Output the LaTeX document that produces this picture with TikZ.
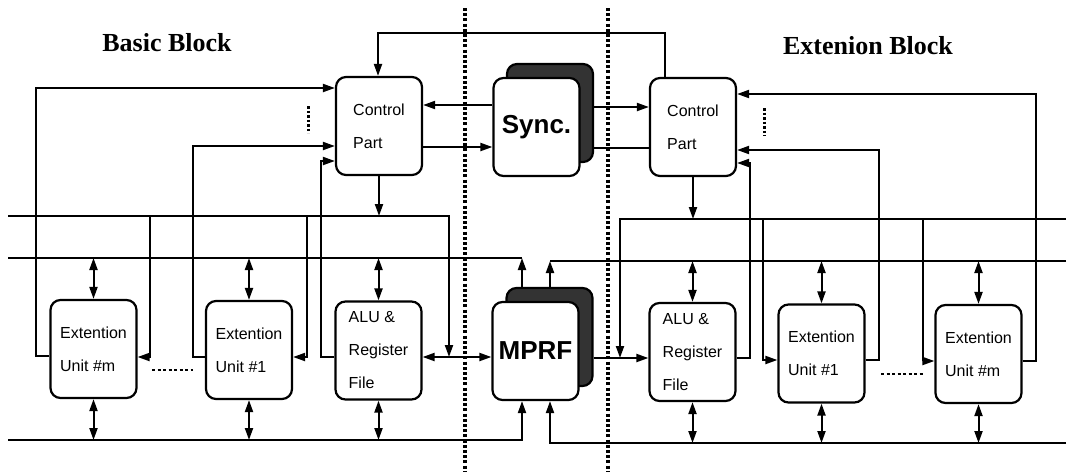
\documentclass[tikz,border=0pt]{standalone}
\usepackage{fontspec}
\setmainfont{Liberation Serif}
\setsansfont{Liberation Sans}
\usetikzlibrary{arrows.meta}
\begin{document}
\begin{tikzpicture}[x=1pt,y=-1pt,
  line width=2pt,
  >={Triangle[length=12pt,width=8pt]},
  blk/.style={draw, line width=2.2pt, rounded corners=10pt, minimum width=86pt, minimum height=98pt, inner sep=0pt, fill=white, align=left, font=\sffamily\fontsize{16}{33}\selectfont},
  big/.style={blk, font=\sffamily\bfseries\fontsize{26}{30}\selectfont},
  shadowbox/.style={draw, line width=2.2pt, fill=black!80, rounded corners=10pt, minimum width=86pt, minimum height=98pt, inner sep=0pt},
  title/.style={font=\rmfamily\bfseries\fontsize{26}{30}\selectfont},
  sep/.style={line width=3.5pt, dash pattern=on 3pt off 2.2pt},
  vdots/.style={line width=3pt, dash pattern=on 2.5pt off 2pt},
  hdash/.style={line width=1.8pt, dash pattern=on 3pt off 2.5pt}
]
\useasboundingbox (0,0) rectangle (1068,472);

% titles
\node[title] (tb) at (167,43) {Basic Block};
\node[title] (te) at (868,46) {Extenion Block};

% top row
\node[blk] (cpl) at (379,126) {Control\\Part};
\node[shadowbox] (syncsh) at (550,113) {};
\node[big] (sync) at (536.5,127) {Sync.};
\node[blk] (cpr) at (693,127) {Control\\Part};

% bottom row
\node[blk] (eum_l) at (93.5,349) {Extention\\Unit \#m};
\node[blk] (eu1_l) at (249,350) {Extention\\Unit \#1};
\node[blk] (alu_l) at (378.5,350.5) {ALU \&\\Register\\File};
\node[shadowbox] (mprfsh) at (549.5,337) {};
\node[big] (mprf) at (535.5,351) {MPRF};
\node[blk] (alu_r) at (692.5,352) {ALU \&\\Register\\File};
\node[blk] (eu1_r) at (821.5,353.5) {Extention\\Unit \#1};
\node[blk] (eum_r) at (978.5,354) {Extention\\Unit \#m};

% bus coordinates
\coordinate (L1) at (8,216);
\coordinate (L2) at (8,258);
\coordinate (L3) at (8,440);
\coordinate (R1) at (1066,219);
\coordinate (R2) at (1066,261);
\coordinate (R3) at (1066,443);
\coordinate (j1) at (449,357);
\coordinate (j2) at (620,358);
\coordinate (m1) at (522,258);
\coordinate (m2) at (550,261);
\coordinate (tl) at (378,33);

% top loop CPR -> CPL
\draw[->] (cpr.north -| 665,0) |- (tl) -- (cpl.north -| tl);

% sync <-> control parts
\draw[->] (sync.west |- 0,105) -- (cpl.east |- 0,105);
\draw[->] (cpl.east |- 0,147) -- (sync.west |- 0,147);
\draw[->] (syncsh.east |- 0,107) -- (cpr.west |- 0,107);
\draw (cpr.west |- 0,148) -- (syncsh.east |- 0,148);

% control parts down to bus 1
\draw[->] (cpl.south) -- (cpl.south |- L1);
\draw[->] (cpr.south) -- (cpr.south |- R1);

% bus 1
\draw[->] (L1) -| (j1);
\draw[->] (R1) -| (j2);

% ALU <-> MPRF
\draw[<->] (alu_l.east |- j1) -- (mprf.west |- j1);
\draw[->] (mprfsh.east |- j2) -- (alu_r.west |- j2);

% bus 2
\draw (L2) -- (m1);
\draw[->] (mprfsh.north -| m1) -- (m1);
\draw (R2) -- (m2);
\draw[->] (mprfsh.north -| m2) -- (m2);

% bus 3
\draw[->] (L3) -| (mprf.south -| m1);
\draw[->] (R3) -| (mprf.south -| m2);

% double arrows to buses
\foreach \n in {eum_l,eu1_l,alu_l}{
  \draw[<->] (\n.north |- L2) -- (\n.north);
  \draw[<->] (\n.south) -- (\n.south |- L3);
}
\foreach \n in {alu_r,eu1_r,eum_r}{
  \draw[<->] (\n.north |- R2) -- (\n.north);
  \draw[<->] (\n.south) -- (\n.south |- R3);
}

% side loops, basic block
\draw[->] (eum_l.west |- 0,356) -| (36,88) -- (cpl.west |- 0,88);
\draw[->] (150,216) |- (eum_l.east |- 0,357);
\draw[->] (eu1_l.west |- 0,357) -| (193,146) -- (cpl.west |- 0,146);
\draw[->] (307,216) |- (eu1_l.east |- 0,357);
\draw[->] (alu_l.west |- 0,357) -| (321,161) -- (cpl.west |- 0,161);

% side loops, extension block
\draw[->] (alu_r.east |- 0,358) -| (750,163) -- (cpr.east |- 0,163);
\draw[->] (763,219) |- (eu1_r.west |- 0,360);
\draw[->] (eu1_r.east |- 0,360) -| (879,150) -- (cpr.east |- 0,150);
\draw[->] (923,219) |- (eum_r.west |- 0,361);
\draw[->] (eum_r.east |- 0,361) -| (1036,94) -- (cpr.east |- 0,94);

% dotted separators
\draw[sep] (465,8) -- (465,472);
\draw[sep] (608,8) -- (608,472);
\draw[vdots] (308,106) -- (308,133);
\draw[vdots] (764,108) -- (764,136);
\draw[hdash] (152,370) -- (193,370);
\draw[hdash] (881,374) -- (923,374);
\end{tikzpicture}
\end{document}
